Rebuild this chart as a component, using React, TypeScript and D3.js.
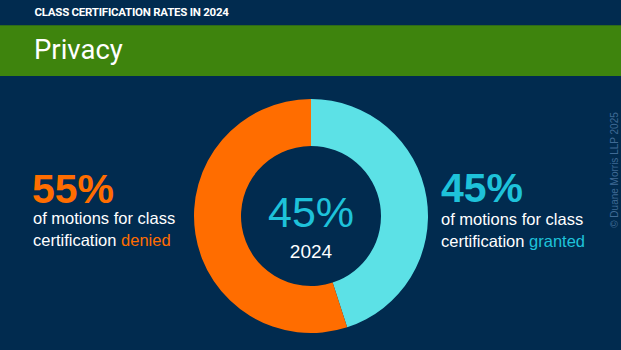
import React from "react";
import * as d3 from "d3";

const W = 621;
const H = 350;

const headerLabel = "CLASS CERTIFICATION RATES IN 2024";
const titleLabel = "Privacy";
const categories = ["granted", "denied"];
const values = [45, 55];
const yearLabel = "2024";
const copyright = "© Duane Morris LLP 2025";

const NAVY = "#012b4f";
const GREEN = "#3e840d";
const ORANGE = "#ff6d00";
const CYAN_RING = "#5ce1e6";
const CYAN_TEXT = "#1ec2da";
const FONT = "Liberation Sans, Arial, sans-serif";

export default function App() {
  const cx = 311;
  const cy = 216;
  const outer = 117;
  const inner = 70;
  const pie = d3
    .pie<number>()
    .sort(null)
    .value((d) => d)
    .startAngle(0)
    .endAngle(2 * Math.PI);
  const arcs = pie(values);
  const arcGen = d3.arc<d3.PieArcDatum<number>>().innerRadius(inner).outerRadius(outer);
  const color = d3.scaleOrdinal<string, string>().domain(categories).range([CYAN_RING, ORANGE]);

  const granted = values[0];
  const denied = values[1];

  return (
    <svg
      width={W}
      height={H}
      style={{ position: "absolute", left: 0, top: 0, display: "block" }}
    >
      <rect x={0} y={0} width={W} height={H} fill={NAVY} />
      <rect x={0} y={25} width={W} height={51} fill={GREEN} />
      <rect x={0} y={25} width={W} height={1} fill="#2e6a1a" />
      <text
        x={34.5}
        y={16}
        fill="#ffffff"
        fontFamily="Roboto, sans-serif"
        fontWeight={700}
        fontSize={11.5}
        letterSpacing={-0.25}
      >
        {headerLabel}
      </text>
      <text x={34} y={59} fill="#ffffff" fontFamily="Roboto, sans-serif" fontWeight={400} fontSize={27.5}>
        {titleLabel}
      </text>

      <g transform={`translate(${cx},${cy})`}>
        {arcs.map((a, i) => (
          <path key={categories[i]} d={arcGen(a) || ""} fill={color(categories[i])} />
        ))}
        <text
          x={0}
          y={11}
          textAnchor="middle"
          fill={CYAN_TEXT}
          fontFamily={FONT}
          fontSize={43}
        >
          {granted}%
        </text>
        <text x={0} y={42} textAnchor="middle" fill="#ffffff" fontFamily={FONT} fontSize={19}>
          {yearLabel}
        </text>
      </g>

      <text x={32} y={203} fill={ORANGE} fontFamily={FONT} fontWeight={700} fontSize={41}>
        {denied}%
      </text>
      <text x={33} y={224} fill="#ffffff" fontFamily={FONT} fontSize={16.5}>
        of motions for class
      </text>
      <text x={33} y={246} fill="#ffffff" fontFamily={FONT} fontSize={16.5}>
        certification <tspan fill={ORANGE}>{categories[1]}</tspan>
      </text>

      <text x={441} y={202} fill={CYAN_TEXT} fontFamily={FONT} fontWeight={700} fontSize={41}>
        {granted}%
      </text>
      <text x={441} y={225} fill="#ffffff" fontFamily={FONT} fontSize={16.5}>
        of motions for class
      </text>
      <text x={441} y={247} fill="#ffffff" fontFamily={FONT} fontSize={16.5}>
        certification <tspan fill={CYAN_TEXT}>{categories[0]}</tspan>
      </text>

      <text
        transform={`translate(618,170) rotate(-90)`}
        textAnchor="middle"
        fill="#3f6a95"
        fontFamily={FONT}
        fontSize={10}
      >
        {copyright}
      </text>
    </svg>
  );
}
